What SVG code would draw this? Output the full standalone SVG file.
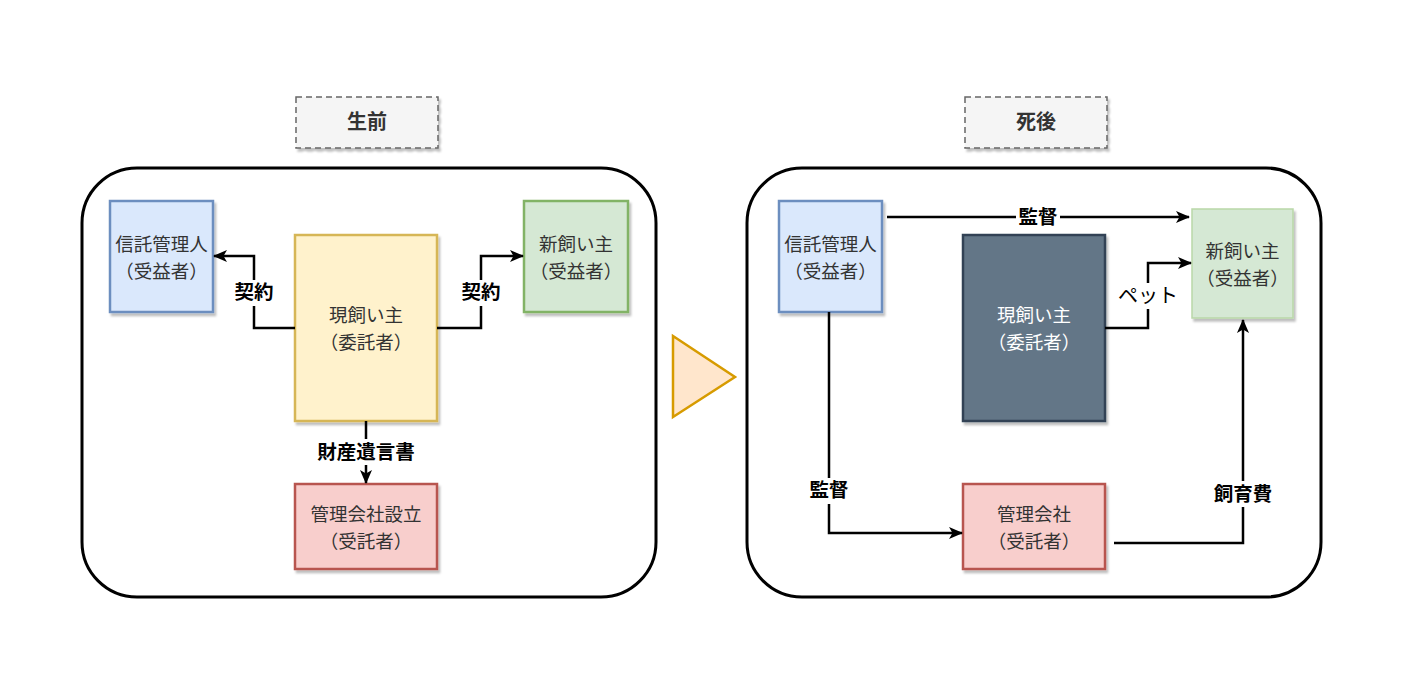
<svg xmlns="http://www.w3.org/2000/svg" width="1414" height="682" viewBox="0 0 1414 682">
<defs>
<style>
.t{font-family:"Noto Sans CJK JP","Liberation Sans",sans-serif;font-size:18.5px;fill:#333333;text-anchor:middle}
.w{fill:#ffffff}
.lb{font-family:"Noto Sans CJK JP","Liberation Sans",sans-serif;font-size:19.5px;font-weight:bold;fill:#000;text-anchor:middle}
.e{fill:none;stroke:#000;stroke-width:2.5}
.bg{fill:#ffffff}
</style>
<filter id="sh" x="-10%" y="-10%" width="130%" height="130%">
<feDropShadow dx="2" dy="3" stdDeviation="1" flood-color="#000" flood-opacity="0.25"/>
</filter>
<marker id="ar" viewBox="0 0 14 12" refX="13" refY="6" markerWidth="14" markerHeight="12" markerUnits="userSpaceOnUse" orient="auto">
<path d="M0,0 L14,6 L0,12 L3.5,6 Z" fill="#000"/>
</marker>
</defs>

<g id="containers">
<rect x="82" y="168" width="574" height="429" rx="55" fill="#fff" stroke="#000" stroke-width="3"/>
<rect x="747" y="168" width="574" height="429" rx="55" fill="#fff" stroke="#000" stroke-width="3"/>
</g>

<g id="title-before">
<rect x="296" y="97" width="142" height="51" fill="#f5f5f5" stroke="#666666" stroke-width="1.5" stroke-dasharray="6 4" filter="url(#sh)"/>
<text class="lb" x="367" y="129" style="font-size:20px;fill:#333">生前</text>
</g>
<g id="title-after">
<rect x="965" y="97" width="142" height="51" fill="#f5f5f5" stroke="#666666" stroke-width="1.5" stroke-dasharray="6 4" filter="url(#sh)"/>
<text class="lb" x="1036" y="129" style="font-size:20px;fill:#333">死後</text>
</g>

<g id="arrow-triangle">
<polygon points="673,336 735,377 673,417" fill="#ffe6cc" stroke="#d79b00" stroke-width="2.5"/>
</g>

<g id="l-trustee">
<rect x="110" y="201" width="103" height="111" fill="#dae8fc" stroke="#6c8ebf" stroke-width="2.5" filter="url(#sh)"/>
<text class="t" x="161.5" y="251">信託管理人</text>
<text class="t" x="161.5" y="278">（受益者）</text>
</g>
<g id="l-owner">
<rect x="295" y="235" width="142" height="186" fill="#fff2cc" stroke="#d6b656" stroke-width="2.5" filter="url(#sh)"/>
<text class="t" x="366" y="322">現飼い主</text>
<text class="t" x="366" y="349">（委託者）</text>
</g>
<g id="l-newowner">
<rect x="524" y="201" width="104" height="111" fill="#d5e8d4" stroke="#82b366" stroke-width="2.5" filter="url(#sh)"/>
<text class="t" x="576" y="251">新飼い主</text>
<text class="t" x="576" y="278">（受益者）</text>
</g>
<g id="l-company">
<rect x="295" y="484" width="142" height="85" fill="#f8cecc" stroke="#b85450" stroke-width="2.5" filter="url(#sh)"/>
<text class="t" x="366" y="521">管理会社設立</text>
<text class="t" x="366" y="548">（受託者）</text>
</g>

<g id="r-trustee">
<rect x="779" y="201" width="103" height="111" fill="#dae8fc" stroke="#6c8ebf" stroke-width="2.5" filter="url(#sh)"/>
<text class="t" x="830.5" y="251">信託管理人</text>
<text class="t" x="830.5" y="278">（受益者）</text>
</g>
<g id="r-owner">
<rect x="963" y="235" width="142" height="186" fill="#647687" stroke="#314354" stroke-width="2.5" filter="url(#sh)"/>
<text class="t w" x="1034" y="322">現飼い主</text>
<text class="t w" x="1034" y="349">（委託者）</text>
</g>
<g id="r-newowner">
<rect x="1192" y="209" width="101" height="109" fill="#d5e8d4" stroke="#b9d7a8" stroke-width="1.5" filter="url(#sh)"/>
<text class="t" x="1242.5" y="258">新飼い主</text>
<text class="t" x="1242.5" y="285">（受益者）</text>
</g>
<g id="r-company">
<rect x="963" y="484" width="142" height="85" fill="#f8cecc" stroke="#b85450" stroke-width="2.5" filter="url(#sh)"/>
<text class="t" x="1034" y="521">管理会社</text>
<text class="t" x="1034" y="548">（受託者）</text>
</g>

<g id="connectors">
<path class="e" d="M295,328 H254 V256 H214" marker-end="url(#ar)"/>
<path class="e" d="M437,328 H481 V256 H523" marker-end="url(#ar)"/>
<path class="e" d="M366,421 V483" marker-end="url(#ar)"/>
<path class="e" d="M887,217 H1189" marker-end="url(#ar)"/>
<path class="e" d="M1105,328 H1148 V263 H1191" marker-end="url(#ar)"/>
<path class="e" d="M829,312 V533 H962" marker-end="url(#ar)"/>
<path class="e" d="M1114,543 H1243 V320" marker-end="url(#ar)"/>

<rect class="bg" x="233" y="280" width="42" height="26"/>
<text class="lb" x="254" y="299">契約</text>
<rect class="bg" x="460" y="280" width="42" height="26"/>
<text class="lb" x="481" y="299">契約</text>
<rect class="bg" x="314" y="439" width="104" height="26"/>
<text class="lb" x="366" y="459">財産遺言書</text>
<rect class="bg" x="1016" y="206" width="44" height="22"/>
<text class="lb" x="1038" y="224">監督</text>
<rect class="bg" x="1116" y="283" width="64" height="26"/>
<text class="t" x="1148" y="303" style="font-size:20px;fill:#000">ペット</text>
<rect class="bg" x="807" y="478" width="44" height="26"/>
<text class="lb" x="829" y="497">監督</text>
<rect class="bg" x="1212" y="481" width="62" height="26"/>
<text class="lb" x="1243" y="501">飼育費</text>
</g>
</svg>
